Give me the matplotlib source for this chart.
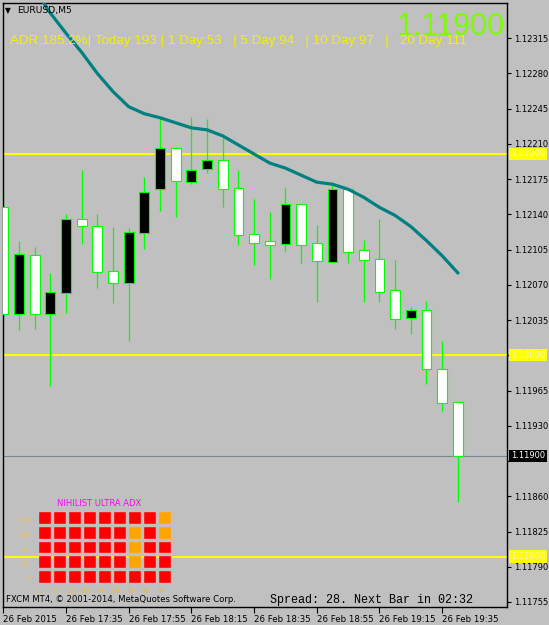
import numpy as np
import matplotlib.pyplot as plt
from matplotlib.transforms import blended_transform_factory

# EURUSD M5 bars, 17:15 .. 19:40
opens = [1.12147, 1.12041, 1.12099, 1.12041, 1.12062, 1.12135, 1.12128, 1.12083, 1.12072, 1.12122,
         1.12165, 1.12205, 1.12172, 1.12185, 1.12194, 1.12166, 1.12120, 1.12113, 1.12111, 1.12150,
         1.12111, 1.12093, 1.12165, 1.12104, 1.12095, 1.12064, 1.12037, 1.12045, 1.11986, 1.11953]
highs = [1.12166, 1.12114, 1.12108, 1.12082, 1.12140, 1.12184, 1.12140, 1.12127, 1.12126, 1.12177,
         1.12237, 1.12207, 1.12237, 1.12235, 1.12216, 1.12184, 1.12155, 1.12142, 1.12166, 1.12150,
         1.12129, 1.12168, 1.12165, 1.12115, 1.12135, 1.12095, 1.12048, 1.12054, 1.12014, 1.11953]
lows = [1.12037, 1.12025, 1.12026, 1.11970, 1.12042, 1.12111, 1.12067, 1.12052, 1.12014, 1.12106,
        1.12143, 1.12137, 1.12170, 1.12181, 1.12147, 1.12110, 1.12090, 1.12076, 1.12104, 1.12092,
        1.12053, 1.12093, 1.12092, 1.12053, 1.12053, 1.12026, 1.12021, 1.11972, 1.11945, 1.11854]
closes = [1.12041, 1.12100, 1.12041, 1.12062, 1.12135, 1.12128, 1.12083, 1.12072, 1.12122, 1.12162,
          1.12205, 1.12173, 1.12184, 1.12194, 1.12165, 1.12120, 1.12112, 1.12110, 1.12150, 1.12110,
          1.12094, 1.12165, 1.12103, 1.12095, 1.12063, 1.12036, 1.12045, 1.11986, 1.11953, 1.11900]
ma = [np.nan, np.nan, 1.12364, 1.12340, 1.12320, 1.12301, 1.12280, 1.12262, 1.12247, 1.12240,
      1.12236, 1.12231, 1.12226, 1.12224, 1.12218, 1.12209, 1.12200, 1.12191, 1.12186, 1.12179,
      1.12172, 1.12170, 1.12165, 1.12157, 1.12147, 1.12139, 1.12128, 1.12114, 1.12099, 1.12082]

levels = [1.12200, 1.12000, 1.11800]
bid = 1.11900
price_ticks = [1.12315, 1.12280, 1.12245, 1.12210, 1.12175, 1.12140, 1.12105, 1.12070, 1.12035,
               1.12000, 1.11965, 1.11930, 1.11895, 1.11860, 1.11825, 1.11790, 1.11755]
time_labels = ['26 Feb 2015', '26 Feb 17:35', '26 Feb 17:55', '26 Feb 18:15',
               '26 Feb 18:35', '26 Feb 18:55', '26 Feb 19:15', '26 Feb 19:35']

adr_text = 'ADR:185.2%| Today:193 | 1 Day:53   | 5 Day:94   | 10 Day:97   |   20 Day:111'

adx_periods = ['144', '89', '42', '21', '7']
adx_frames = ['1', '5', '15', '30', 'H', 'H4', 'D', 'W', 'M']
adx_state = [[0, 0, 0, 0, 0, 0, 0, 0, 1],
             [0, 0, 0, 0, 0, 0, 1, 0, 1],
             [0, 0, 0, 0, 0, 0, 1, 0, 0],
             [0, 0, 0, 0, 0, 0, 1, 0, 0],
             [0, 0, 0, 0, 0, 0, 0, 0, 0]]

W, H = 549, 625
bg = '#c0c0c0'
lime = '#00ff00'


def px(x, y):
    return x / W, 1 - y / H


fig = plt.figure(figsize=(W / 100, H / 100), dpi=100, facecolor=bg)
ax = fig.add_axes([3 / W, (H - 607) / H, 504 / W, 604 / H], facecolor=bg)

x = np.arange(len(opens))
o = np.array(opens)
c = np.array(closes)

ax.vlines(x, lows, highs, color=lime, lw=0.9, zorder=2)
fill = np.where(c >= o, 'black', 'white')
ax.bar(x, np.abs(c - o) + 0.000005, bottom=np.minimum(o, c), width=0.62,
       color=fill, edgecolor=lime, linewidth=0.8, zorder=3)

ax.plot(x, ma, color='#008080', lw=2.3, zorder=4)

for lv in levels:
    ax.axhline(lv, color='#ffff00', lw=1.5, zorder=1)
ax.axhline(bid, color='#778899', lw=0.8, zorder=1)

ax.set_xlim(-0.02, 504 / 15.68)
ax.set_ylim(1.11750, 1.12350)

# labels hidden behind the line price boxes are left blank
covered = [1.12000, 1.11895]
ax.yaxis.tick_right()
ax.set_yticks(price_ticks)
ax.set_yticklabels(['' if p in covered else '%.5f' % p for p in price_ticks])
ax.tick_params(axis='y', direction='out', length=3, width=0.8, pad=2, labelsize=6.0, colors='black')
ax.set_xticks(np.arange(0, 30, 4))
ax.set_xticklabels(time_labels)
ax.tick_params(axis='x', direction='out', length=4, width=0.8, pad=2, labelsize=6.2)
for t in ax.get_xticklabels():
    t.set_horizontalalignment('left')
for s in ax.spines.values():
    s.set_color('black')
    s.set_linewidth(1)

# price labels of horizontal lines
tr = blended_transform_factory(ax.transAxes, ax.transData)
for lv in levels:
    ax.text(1.008, lv, '%.5f' % lv, transform=tr, va='center', ha='left', fontsize=6.0,
            color='#f4f4c8', clip_on=False, zorder=10,
            bbox=dict(boxstyle='square,pad=0.2', fc='#ffff00', ec='none'))
ax.text(1.008, bid, '%.5f' % bid, transform=tr, va='center', ha='left', fontsize=6.0,
        color='white', clip_on=False, zorder=10,
        bbox=dict(boxstyle='square,pad=0.2', fc='black', ec='none'))

# header texts
fig.text(*px(5, 11), '\u25bc', fontsize=5.5, va='center', ha='left')
fig.text(*px(17, 11), 'EURUSD,M5', fontsize=6.7, va='center', ha='left')
fig.text(*px(505, 27), '%.5f' % bid, fontsize=22, color='#7cfc00', va='center', ha='right',
         family='Liberation Sans')
fig.text(*px(10, 41), adr_text, fontsize=9.6, color='#f2f200', va='center', ha='left',
         family='Liberation Sans')

# footer texts
fig.text(*px(6, 600), 'FXCM MT4, \u00a9 2001-2014, MetaQuotes Software Corp.', fontsize=6.1,
         va='center', ha='left')
fig.text(*px(270, 600), 'Spread: 28. Next Bar in 02:32', fontsize=8.5, va='center', ha='left',
         family='Liberation Mono')

# NIHILIST ULTRA ADX grid
gx = fig.add_axes([39 / W, 1 - 585.75 / H, 135 / W, 73.75 / H])
gx.set_xlim(0, 9)
gx.set_ylim(5, 0)
gx.axis('off')
for r, row in enumerate(adx_state):
    for k, st in enumerate(row):
        gx.add_patch(plt.Rectangle((k, r), 0.8, 0.81, fc='#ffa500' if st else '#ff0000',
                                   ec='#e8b0b0', lw=0.3))
for r, lab in enumerate(adx_periods):
    gx.text(-0.6, r + 0.55, lab, fontsize=5.2, color='#eec060', ha='right', va='center')
for k, lab in enumerate(adx_frames):
    gx.text(k + 0.1, 5.35, lab, fontsize=5.2, color='#f0b840', ha='center', va='center')
gx.text(4.0, -0.55, 'NIHILIST ULTRA ADX', fontsize=6, color='#ff00ff', ha='center', va='center')

fig.savefig('out.png', dpi=100, facecolor=bg)
